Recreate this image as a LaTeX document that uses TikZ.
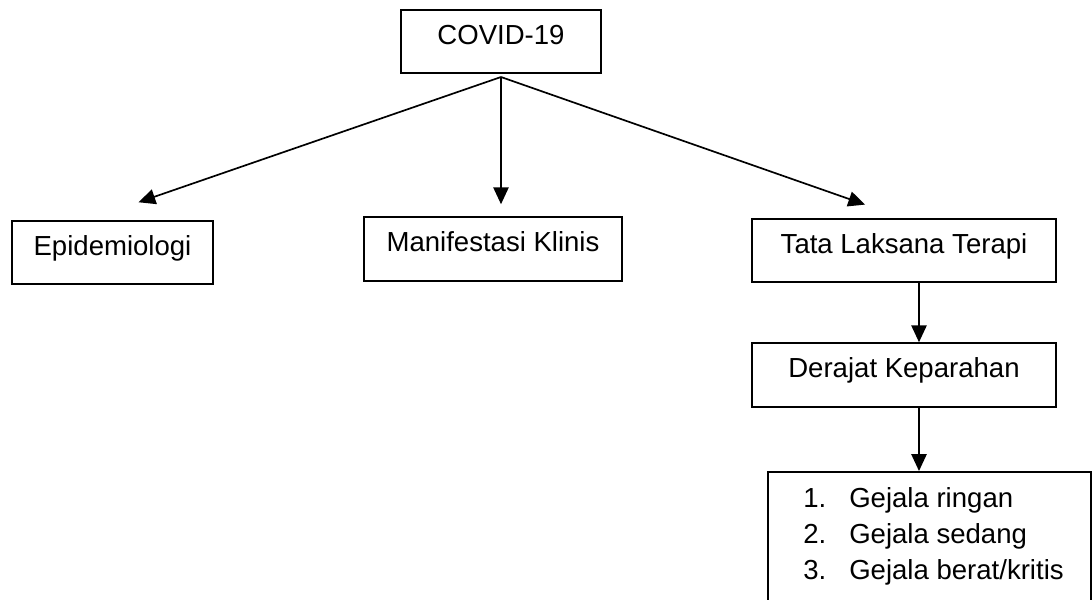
\documentclass[tikz,border=0pt]{standalone}
\usepackage{fontspec}
\setmainfont{Liberation Sans}
\usetikzlibrary{arrows.meta}

\begin{document}
\begin{tikzpicture}[
  kotak/.style={draw, line width=1.1pt, inner sep=0pt, text height=0.75em, text depth=0.33em},
  panah/.style={line width=1.2pt, -{Triangle[length=0.42cm,width=0.38cm]}},
  font=\fontsize{19.6pt}{25.6pt}\selectfont]
\useasboundingbox (0,0) rectangle (27.3,-14.975);
\clip (0,0) rectangle (27.3,-14.975);
\node[kotak, minimum width=5cm, minimum height=1.575cm] (covid) at (12.525,-1.0375) {COVID-19};
\node[kotak, minimum width=5.025cm, minimum height=1.575cm] (epid) at (2.8125,-6.3125) {Epidemiologi};
\node[kotak, minimum width=6.45cm, minimum height=1.6cm] (manif) at (12.325,-6.225) {Manifestasi Klinis};
\node[kotak, minimum width=7.6cm, minimum height=1.575cm] (tata) at (22.6,-6.2625) {Tata Laksana Terapi};
\node[kotak, minimum width=7.6cm, minimum height=1.6cm] (derajat) at (22.6,-9.375) {Derajat Keparahan};
\node[kotak, minimum width=8.075cm, minimum height=4cm, anchor=north west] (gejala) at (19.175,-11.775) {};
\node[anchor=base west, align=left, inner sep=0pt] (daftar) at (20.075,-14.475)
  {\makebox[1.15cm][l]{1.}Gejala ringan\\ \makebox[1.15cm][l]{2.}Gejala sedang\\ \makebox[1.15cm][l]{3.}Gejala berat/kritis};
\coordinate (pangkal) at (12.525,-1.925);
\draw[panah, shorten >=1.375cm] (pangkal) -- ([xshift=-0.65cm]epid.north);
\draw[panah, shorten >=0.3cm] (pangkal) -- (pangkal |- manif.north);
\draw[panah, shorten >=1.03cm] (pangkal) -- (tata.north);
\draw[panah] ([xshift=0.375cm]tata.south) -- ([xshift=0.375cm]derajat.north);
\draw[panah] ([xshift=0.375cm]derajat.south) -- ([xshift=0.375cm]derajat.south |- gejala.north);
\end{tikzpicture}
\end{document}
